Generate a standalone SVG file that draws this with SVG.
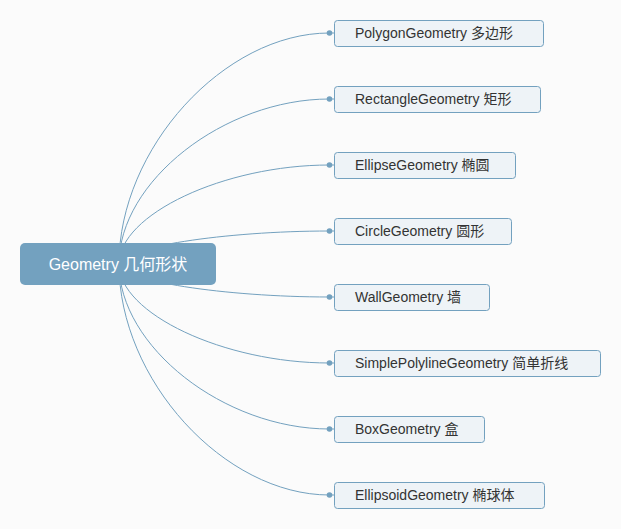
<svg xmlns="http://www.w3.org/2000/svg" width="621" height="529" viewBox="0 0 621 529">
<style>
.bg{fill:#fbfbfb}
.link{fill:none;stroke:#73a1bf;stroke-width:1}
.dot{fill:#73a1bf}
.root rect{fill:#73a1bf}
.root text{fill:#ffffff;font-family:"Liberation Sans","Noto Sans CJK SC",sans-serif;font-size:16px;text-anchor:middle}
.child rect{fill:#eef3f7;stroke:#73a1bf;stroke-width:1}
.child text{fill:#333333;font-family:"Liberation Sans","Noto Sans CJK SC",sans-serif;font-size:14px}
</style>
<rect class="bg" x="0" y="0" width="621" height="529"/>
<g id="connectors">
<path class="link" d="M119 264 C119 148.5,224 33,329.5 33"/>
<path class="link" d="M119 264 C119 181.5,224 99,329.5 99"/>
<path class="link" d="M119 264 C119 214.5,224 165,329.5 165"/>
<path class="link" d="M119 264 C119 247.5,224 231,329.5 231"/>
<path class="link" d="M119 264 C119 280.5,224 297,329.5 297"/>
<path class="link" d="M119 264 C119 313.5,224 363,329.5 363"/>
<path class="link" d="M119 264 C119 346.5,224 429,329.5 429"/>
<path class="link" d="M119 264 C119 379.5,224 495,329.5 495"/>
<g class="dot">
<circle cx="329.5" cy="33" r="2.8"/><path class="link" d="M329.5 33H334"/>
<circle cx="329.5" cy="99" r="2.8"/><path class="link" d="M329.5 99H334"/>
<circle cx="329.5" cy="165" r="2.8"/><path class="link" d="M329.5 165H334"/>
<circle cx="329.5" cy="231" r="2.8"/><path class="link" d="M329.5 231H334"/>
<circle cx="329.5" cy="297" r="2.8"/><path class="link" d="M329.5 297H334"/>
<circle cx="329.5" cy="363" r="2.8"/><path class="link" d="M329.5 363H334"/>
<circle cx="329.5" cy="429" r="2.8"/><path class="link" d="M329.5 429H334"/>
<circle cx="329.5" cy="495" r="2.8"/><path class="link" d="M329.5 495H334"/>
</g>
</g>
<g id="root" class="root">
<rect x="20" y="243" width="196" height="42" rx="5"/>
<text x="118" y="269.5">Geometry 几何形状</text>
</g>
<g id="polygon" class="child">
<rect x="334.5" y="20.5" width="209" height="26" rx="3"/>
<text x="355" y="38">PolygonGeometry 多边形</text>
</g>
<g id="rectangle" class="child">
<rect x="334.5" y="86.5" width="206" height="26" rx="3"/>
<text x="355" y="104">RectangleGeometry 矩形</text>
</g>
<g id="ellipse" class="child">
<rect x="334.5" y="152.5" width="181" height="26" rx="3"/>
<text x="355" y="170">EllipseGeometry 椭圆</text>
</g>
<g id="circle" class="child">
<rect x="334.5" y="218.5" width="177" height="26" rx="3"/>
<text x="355" y="236">CircleGeometry 圆形</text>
</g>
<g id="wall" class="child">
<rect x="334.5" y="284.5" width="155" height="26" rx="3"/>
<text x="355" y="302">WallGeometry 墙</text>
</g>
<g id="simplepolyline" class="child">
<rect x="334.5" y="350.5" width="266" height="26" rx="3"/>
<text x="355" y="368">SimplePolylineGeometry 简单折线</text>
</g>
<g id="box" class="child">
<rect x="334.5" y="416.5" width="150" height="26" rx="3"/>
<text x="355" y="434">BoxGeometry 盒</text>
</g>
<g id="ellipsoid" class="child">
<rect x="334.5" y="482.5" width="210" height="26" rx="3"/>
<text x="355" y="500">EllipsoidGeometry 椭球体</text>
</g>
</svg>
